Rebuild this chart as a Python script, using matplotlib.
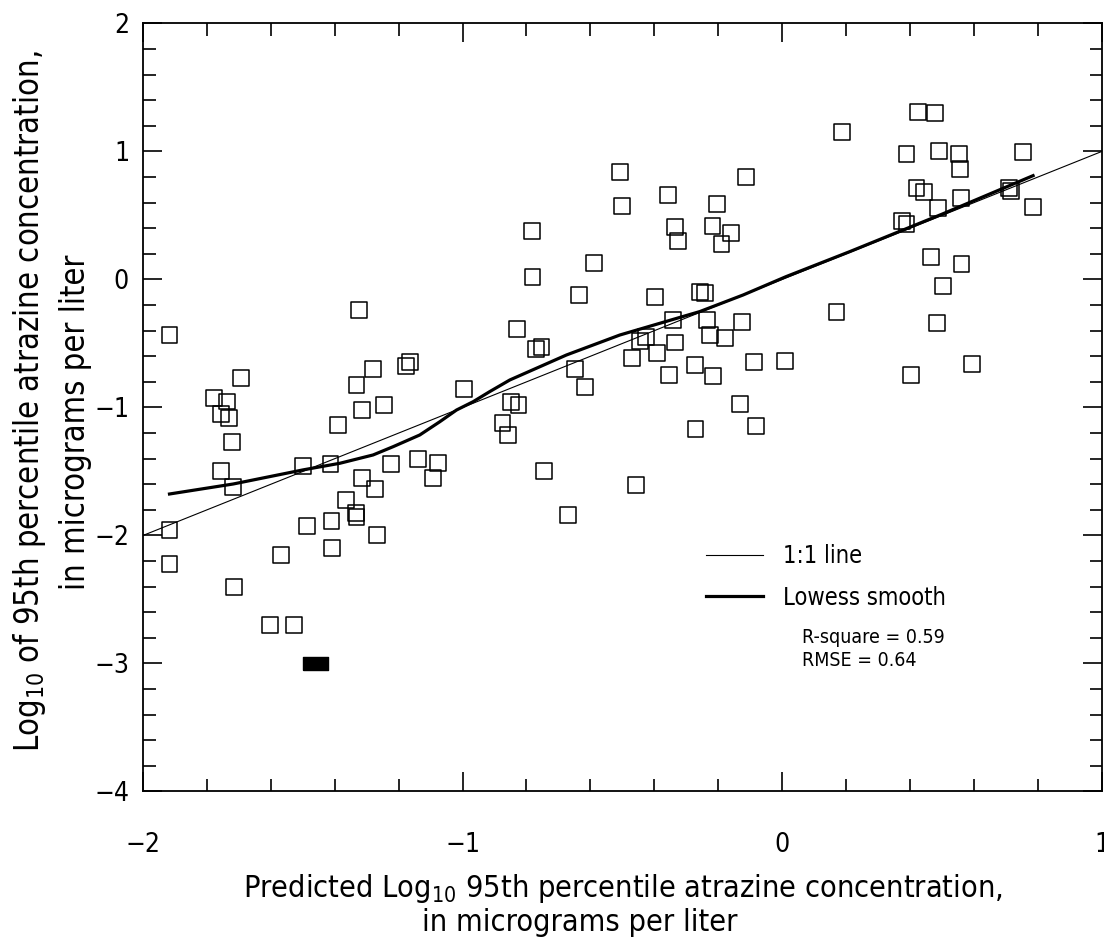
import matplotlib
matplotlib.use("Agg")
import matplotlib.pyplot as plt
from matplotlib.ticker import MultipleLocator

plt.rcParams['font.family'] = ['DejaVu Sans']
plt.rcParams['font.stretch'] = 'condensed'
plt.rcParams['mathtext.fontset'] = 'dejavusans'

# predicted (x) vs observed (y) log10 95th percentile atrazine
predicted = [-1.917, -1.323, -1.694, -1.778, -1.736, -1.164, -1.177, -1.280, -1.332, -0.996,
             -1.245, -1.314, -1.756, -1.730, -1.721, -1.756, -1.719, -1.917, -1.917, -1.715,
             -1.603, -1.527, -1.389, -1.500, -1.413, -1.224, -1.139, -1.076, -1.092, -1.314,
             -1.274, -1.365, -1.334, -1.332, -1.410, -1.488, -1.269, -1.408, -1.569,
             -0.508, -0.112, -0.356, -0.203, -0.501, -0.335, -0.218, -0.159, -0.326, -0.190,
             -0.784, -0.589, -0.781, -0.635, -0.399, -0.258, -0.242, -0.831, -0.341, -0.234,
             -0.125, -0.769, -0.753, -0.445, -0.427, -0.336, -0.226, -0.178, -0.470, -0.391,
             -0.649, -0.354, -0.273, -0.216, -0.088, 0.010, -0.617, -0.849, -0.825, -0.875,
             -0.857, -0.133, -0.082, -0.271, -0.745, -0.458, -0.670,
             0.187, 0.425, 0.477, 0.389, 0.490, 0.553, 0.556, 0.754, 0.420, 0.444,
             0.559, 0.488, 0.710, 0.715, 0.785, 0.375, 0.389, 0.465, 0.561, 0.503,
             0.170, 0.485, 0.404, 0.594]
observed = [-0.434, -0.238, -0.772, -0.923, -0.954, -0.642, -0.673, -0.702, -0.824, -0.855,
            -0.980, -1.020, -1.051, -1.085, -1.267, -1.494, -1.624, -1.957, -2.223, -2.400,
            -2.699, -2.699, -1.137, -1.455, -1.444, -1.441, -1.402, -1.431, -1.553, -1.553,
            -1.639, -1.723, -1.827, -1.853, -1.887, -1.923, -1.996, -2.100, -2.152,
            0.837, 0.803, 0.660, 0.587, 0.574, 0.413, 0.418, 0.361, 0.301, 0.277,
            0.379, 0.131, 0.017, -0.121, -0.139, -0.095, -0.103, -0.389, -0.316, -0.316,
            -0.335, -0.545, -0.530, -0.480, -0.452, -0.493, -0.434, -0.460, -0.611, -0.577,
            -0.702, -0.746, -0.671, -0.754, -0.642, -0.634, -0.842, -0.960, -0.980, -1.124,
            -1.215, -0.973, -1.145, -1.170, -1.496, -1.605, -1.840,
            1.155, 1.306, 1.298, 0.980, 1.006, 0.978, 0.861, 0.999, 0.717, 0.686,
            0.639, 0.561, 0.712, 0.694, 0.569, 0.457, 0.431, 0.173, 0.119, -0.048,
            -0.256, -0.342, -0.746, -0.660]

# censored value shown as a filled bar
censored_x = [-1.462]
censored_y = [-3.0]

# lowess smooth
lowess_x = [-1.917, -1.718, -1.500, -1.384, -1.280, -1.217, -1.134, -1.071, -1.019,
            -0.967, -0.915, -0.852, -0.675, -0.508, -0.258, -0.122, 0.012, 0.211,
            0.500, 0.785]
lowess_y = [-1.676, -1.598, -1.488, -1.436, -1.371, -1.306, -1.215, -1.111, -1.020,
            -0.955, -0.876, -0.785, -0.590, -0.434, -0.251, -0.121, 0.022, 0.217,
            0.510, 0.811]

one_to_one = [-2, 1]

fig = plt.figure(figsize=(11.04, 9.38), dpi=100)
ax = fig.add_axes([0.1295, 0.1562, 0.8685, 0.8188])

ax.plot(one_to_one, one_to_one, color='black', lw=0.8, label='1:1 line')
ax.plot(lowess_x, lowess_y, color='black', lw=2.3, label='Lowess smooth',
        solid_joinstyle='round')
ax.scatter(predicted, observed, marker='s', s=130, facecolors='none',
           edgecolors='black', linewidths=1.1, zorder=3)
bar_marker = [(-1, -0.52), (1, -0.52), (1, 0.52), (-1, 0.52), (-1, -0.52)]
ax.plot(censored_x, censored_y, ls='none', marker=bar_marker, ms=18,
        color='black', zorder=3)

ax.set_xlim(-2, 1)
ax.set_ylim(-4, 2)
ax.xaxis.set_major_locator(MultipleLocator(1))
ax.xaxis.set_minor_locator(MultipleLocator(0.2))
ax.yaxis.set_major_locator(MultipleLocator(1))
ax.yaxis.set_minor_locator(MultipleLocator(0.2))
ax.tick_params(which='both', direction='in', top=True, right=True, width=1.2,
               labelsize=19)
ax.tick_params(which='major', length=14, pad=10)
ax.tick_params(which='minor', length=9)
ax.tick_params(axis='x', which='major', pad=29)
for sp in ax.spines.values():
    sp.set_linewidth(1.3)

# axis titles, second line sits a little toward the start of the first
fig.text(0.564, 0.053, 'Predicted Log$_{10}$ 95th percentile atrazine concentration,',
         fontsize=22, ha='center', va='center')
fig.text(0.525, 0.017, 'in micrograms per liter', fontsize=22, ha='center', va='center')
fig.text(0.027, 0.572, 'Log$_{10}$ of 95th percentile atrazine concentration,',
         fontsize=23.5, ha='center', va='center', rotation=90)
fig.text(0.068, 0.55, 'in micrograms per liter', fontsize=23.5, ha='center',
         va='center', rotation=90)

ax.legend(loc='upper left', bbox_to_anchor=(0.565, 0.35), frameon=False,
          fontsize=17, handlelength=2.4, handletextpad=0.85, labelspacing=0.75)
ax.text(0.6875, 0.213, 'R-square = 0.59\nRMSE = 0.64', transform=ax.transAxes,
        fontsize=14, va='top', linespacing=1.3)

fig.savefig('out.png', dpi=100)
